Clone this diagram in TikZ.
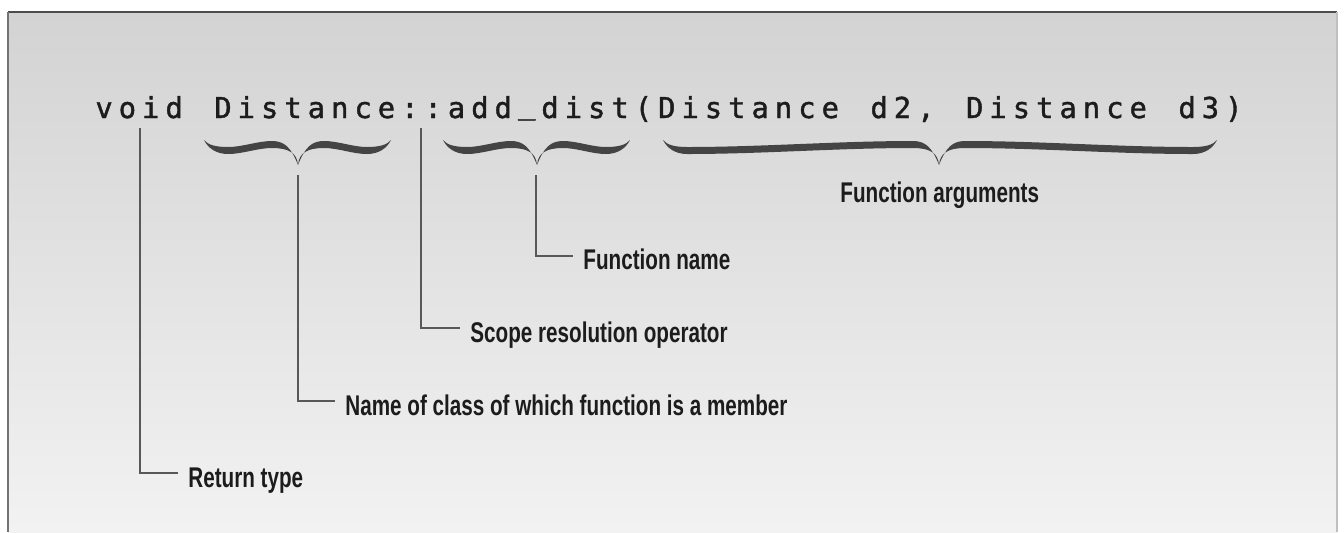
\documentclass[tikz,border=0pt]{standalone}
\usepackage{fontspec}
\newfontfamily\codefont[LetterSpace=20.9,WordSpace=1.35,FakeBold=1.4]{DejaVu Sans Mono}
\newfontfamily\labelfont[FakeStretch=0.725]{Liberation Sans}
\definecolor{paneltop}{RGB}{211,211,211}
\definecolor{panelbottom}{RGB}{242,242,242}
\definecolor{ink}{RGB}{28,28,28}
\definecolor{leadgray}{RGB}{88,88,88}
\definecolor{bracegray}{RGB}{68,68,68}
\tikzset{
  code/.style={inner sep=0pt, text=ink, font=\codefont\fontsize{14.4}{16}\selectfont},
  callout/.style={inner sep=0pt, text=ink, font=\labelfont\bfseries\fontsize{14.25}{16}\selectfont},
  lead/.style={draw=leadgray, line width=1.1pt},
  bracefill/.style={fill=bracegray},
}
% one half of a curly brace: end x, tip x, direction (+1 rightwards, -1 leftwards)
\newcommand\halfbrace[3]{%
  \pgfmathsetmacro\bA{#1+24*#3}%
  \pgfmathsetmacro\bH{#2-26*#3}%
  \pgfmathsetmacro\bD{(\bH-\bA)/3}%
  \fill[bracefill] (#1,140)
    .. controls ({#1+4*#3},145) and ({#1+12*#3},147) .. (\bA,147)
    .. controls ({\bA+\bD},147) and ({\bH-\bD},141) .. (\bH,141)
    .. controls ({#2-14*#3},141) and ({#2-7*#3},147) .. (#2,165)
    .. controls ({#2-1*#3},153) and ({#2-9*#3},148) .. (\bH,148)
    .. controls ({\bH-\bD},148) and ({\bA+\bD},154) .. (\bA,154)
    .. controls ({#1+12*#3},154) and ({#1+4*#3},148) .. (#1,140) -- cycle;
}
\newcommand\curlybrace[3]{\halfbrace{#1}{#2}{1}\halfbrace{#3}{#2}{-1}}
% underscore sitting on the baseline, keeping the letter pitch of the header
\newcommand\lowbar{\hspace{0.209em}\raisebox{2.2pt}{\_}\hspace{0.209em}}
\begin{document}
\begin{tikzpicture}[x=0.5pt,y=-0.5pt]
  \useasboundingbox (0,0) rectangle (1344,532);
  % panel with its soft vertical gradient
  \shade[top color=paneltop, bottom color=panelbottom] (8,12) rectangle (1337,532);
  \draw[draw=black!70, line width=1pt] (8,12) -- (1337,12);
  \draw[draw=black!55, line width=0.8pt] (8,12) -- (8,532);
  \draw[draw=black!25, line width=0.8pt] (1337,12) -- (1337,532);

  % the function header
  \node[code, anchor=base west] (sig) at (95,118)
    {void Distance::add\lowbar dist(Distance d2, Distance d3)};

  % braces under the class name, the function name and the arguments
  \curlybrace{204}{298}{391}
  \curlybrace{443}{537}{630}
  \curlybrace{663}{939}{1217}

  % labels
  \node[callout, anchor=base west] (args)  at (840,202) {Function arguments};
  \node[callout, anchor=base west] (fname) at (583,269) {Function name};
  \node[callout, anchor=base west] (scope) at (470,342) {Scope resolution operator};
  \node[callout, anchor=base west] (cls)   at (345,415) {Name of class of which function is a member};
  \node[callout, anchor=base west] (ret)   at (188,487) {Return type};

  % where each leader starts
  \coordinate (ret-top)   at (140,128);
  \coordinate (scope-top) at (421,128);
  \coordinate (cls-top)   at (298,175);
  \coordinate (fname-top) at (536,175);

  % leaders
  \draw[lead] (fname-top) |- ([shift={(-10,-13)}]fname.base west);
  \draw[lead] (scope-top) |- ([shift={(-10,-14)}]scope.base west);
  \draw[lead] (cls-top)   |- ([shift={(-10,-14)}]cls.base west);
  \draw[lead] (ret-top)   |- ([shift={(-10,-14)}]ret.base west);
\end{tikzpicture}
\end{document}
